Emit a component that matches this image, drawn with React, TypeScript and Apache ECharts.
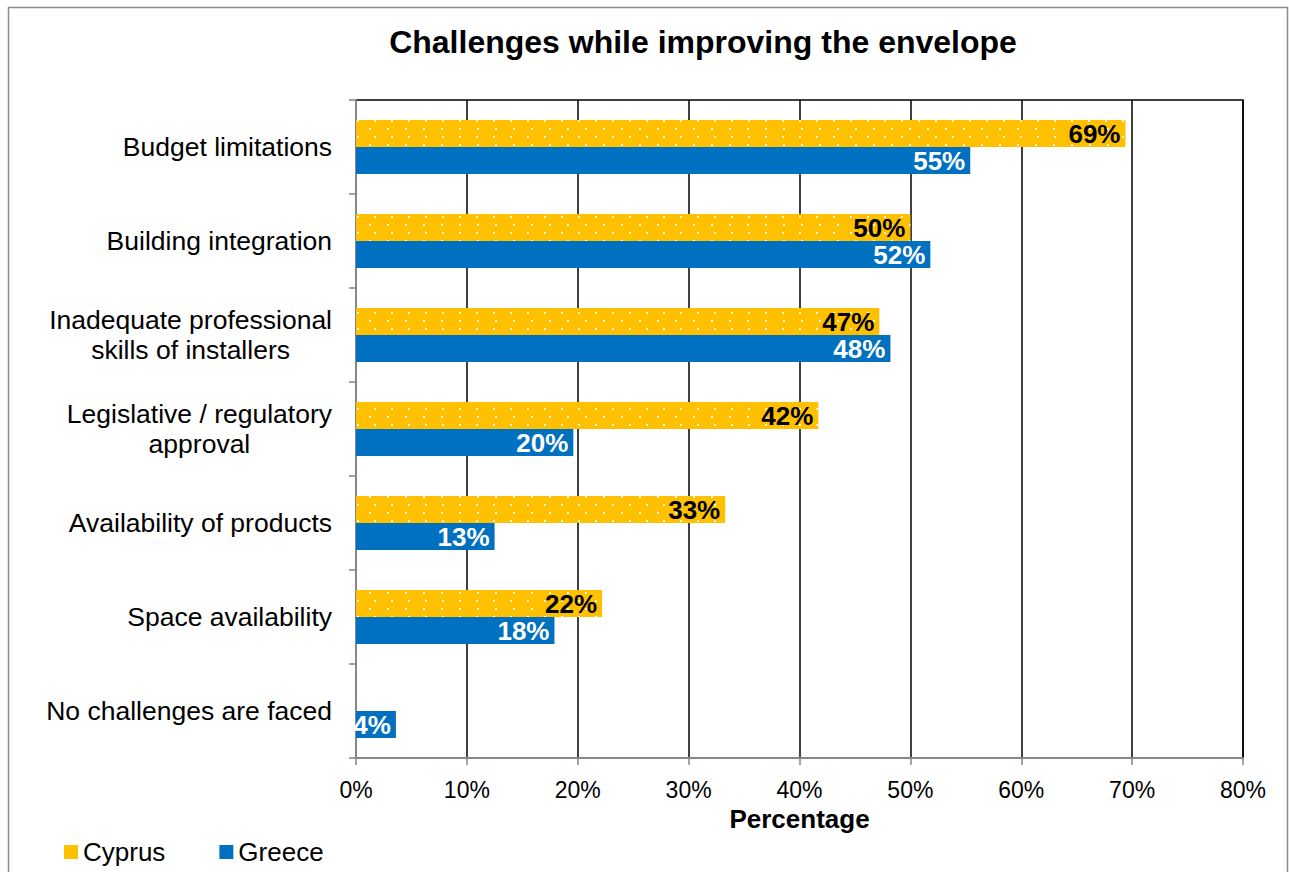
import React, { useEffect, useRef } from "react";
import * as echarts from "echarts";

// Survey answers, top to bottom as listed on the chart
const categories = [
  "Budget limitations",
  "Building integration",
  "Inadequate professional\nskills of installers",
  "Legislative / regulatory\napproval",
  "Availability of products",
  "Space availability",
  "No challenges are faced",
];

// Share of respondents (%)
const cyprus = [69.4, 50.0, 47.2, 41.7, 33.3, 22.2, 0];
const greece = [55.4, 51.8, 48.2, 19.6, 12.5, 17.9, 3.6];

const seriesNames = ["Cyprus", "Greece"];
const xTicks = { min: 0, max: 80, interval: 10 };

const FONT = "'Liberation Sans', Arial, Helvetica, sans-serif";
const AXIS_GREY = "#868686";
const COLORS = ["#FFC000", "#0070C0"];

export default function App() {
  const ref = useRef<HTMLDivElement>(null);

  useEffect(() => {
    if (!ref.current) return;
    const chart = echarts.init(ref.current, undefined, { renderer: "svg" });

    const pct = (p: any) => (p.value ? `${Math.round(p.value)}%` : "");

    chart.setOption({
      animation: false,
      backgroundColor: "#ffffff",
      textStyle: { fontFamily: FONT },
      graphic: [
        {
          type: "rect",
          shape: { x: 8.5, y: 7.5, width: 1279, height: 900 },
          style: { fill: "none", stroke: "#8c8c8c", lineWidth: 1.5 },
          silent: true,
          z: 0,
        },
        {
          type: "text",
          x: 703,
          y: 42,
          style: {
            text: "Challenges while improving the envelope",
            fontFamily: FONT,
            fontSize: 32,
            fontWeight: "bold",
            fill: "#000",
            textAlign: "center",
            textVerticalAlign: "middle",
          },
        },
      ],
      legend: {
        data: seriesNames.map((name, i) => ({
          name,
          itemStyle: { color: COLORS[i], decal: "none" },
        })),
        left: 64,
        top: 839,
        padding: 0,
        itemWidth: 14,
        itemHeight: 14,
        itemGap: 54,
        icon: "rect",
        textStyle: { fontFamily: FONT, fontSize: 26, color: "#000" },
      },
      grid: {
        left: 356,
        right: 46,
        top: 100,
        bottom: 114,
        show: true,
        borderColor: "#000",
        borderWidth: 1.5,
        backgroundColor: "#fff",
      },
      xAxis: {
        type: "value",
        min: xTicks.min,
        max: xTicks.max,
        interval: xTicks.interval,
        name: "Percentage",
        nameLocation: "middle",
        nameGap: 38,
        nameTextStyle: { fontFamily: FONT, fontSize: 26, fontWeight: "bold", color: "#000" },
        axisLine: { show: true, lineStyle: { color: AXIS_GREY, width: 2 } },
        axisTick: { show: true, length: 7, lineStyle: { color: AXIS_GREY, width: 1.5 } },
        axisLabel: { formatter: "{value}%", fontFamily: FONT, fontSize: 23, color: "#000", margin: 20 },
        splitLine: { show: true, lineStyle: { color: "#000", width: 1.5 } },
      },
      yAxis: {
        type: "category",
        inverse: true,
        data: categories,
        axisLine: { show: true, lineStyle: { color: AXIS_GREY, width: 2 } },
        axisTick: { show: true, length: 7, lineStyle: { color: AXIS_GREY, width: 1.5 } },
        axisLabel: {
          margin: 24,
          formatter: (v: string) => v.split("\n").map((l) => `{c|${l}}`).join("\n"),
          rich: {
            c: { align: "center", fontFamily: FONT, fontSize: 26.5, lineHeight: 30, color: "#000" },
          },
        },
      },
      series: [
        {
          name: seriesNames[0],
          type: "bar",
          data: cyprus,
          barWidth: 27,
          barGap: "0%",
          itemStyle: {
            color: COLORS[0],
            decal: {
              symbol: "rect",
              symbolSize: 1,
              color: "rgba(255,255,255,0.85)",
              dashArrayX: [[2, 15], [0, 8.5, 2, 6.5]],
              dashArrayY: [2, 6],
              rotation: 0,
            },
          },
          label: {
            show: true,
            position: "insideRight",
            distance: 5,
            formatter: pct,
            fontFamily: FONT,
            fontSize: 26,
            fontWeight: "bold",
            color: "#000",
          },
        },
        {
          name: seriesNames[1],
          type: "bar",
          data: greece,
          barWidth: 27,
          itemStyle: { color: COLORS[1] },
          label: {
            show: true,
            position: "insideRight",
            distance: 5,
            formatter: pct,
            fontFamily: FONT,
            fontSize: 26,
            fontWeight: "bold",
            color: "#fff",
          },
        },
      ],
    });

    return () => chart.dispose();
  }, []);

  return (
    <div
      ref={ref}
      style={{ position: "absolute", left: 0, top: 0, width: 1289, height: 872 }}
    />
  );
}
